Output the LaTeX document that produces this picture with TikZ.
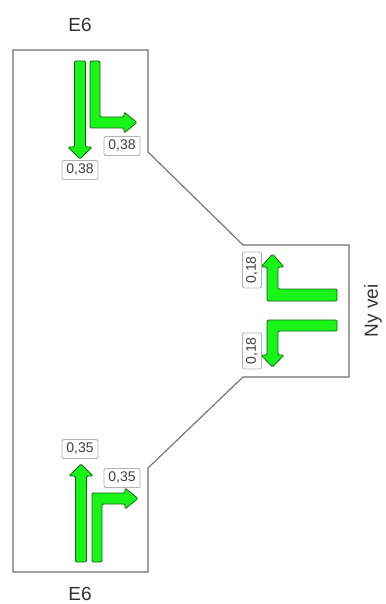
\documentclass[tikz,border=0pt]{standalone}
\usepackage{fontspec}
\setmainfont{Liberation Sans}
\definecolor{lanegreen}{RGB}{25,245,25}
\definecolor{lanedark}{RGB}{20,100,20}
\definecolor{edgegray}{RGB}{110,110,110}
\tikzset{
  lane/.style={fill=lanegreen, draw=lanedark, line width=0.8pt, rounded corners=1.2pt},
  flow/.style={rectangle, rounded corners=2pt, draw=gray!60, fill=white, line width=0.9pt,
    minimum width=36pt, minimum height=19pt, inner sep=1pt, text=black!75,
    font=\fontsize{14}{15}\selectfont},
  road/.style={font=\fontsize{19}{20}\selectfont, text=black!80}
}
\begin{document}
\begin{tikzpicture}[x=1pt, y=-1pt]
  \useasboundingbox (0,0) rectangle (385,604);
  % kryss
  \draw[edgegray, line width=1.1pt] (13,50) -- (148,50) -- (148,152) -- (243,245) -- (349,245)
    -- (349,377) -- (243,377) -- (148,468) -- (148,572) -- (13,572) -- cycle;

  \node[road] (north) at (80,25) {E6};
  \node[road] (south) at (80,594) {E6};
  \node[road, rotate=90] (east) at (373,311) {Ny vei};

  % fra nord
  \draw[lane] (74.5,61) -- (85.5,61) -- (85.5,147) -- (92,147) -- (80,159) -- (68,147) -- (74.5,147) -- cycle;
  \draw[lane] (90,61) -- (100,61) -- (100,117) -- (124,117) -- (124,112) -- (137,122.5) -- (124,133) -- (124,128) -- (90,128) -- cycle;
  \node[flow] (nS) at (80,170) {0,38};
  \node[flow] (nR) at (122,146) {0,38};

  % fra sør
  \draw[lane] (75.5,562) -- (86.5,562) -- (86.5,476) -- (93,476) -- (81,464) -- (69,476) -- (75.5,476) -- cycle;
  \draw[lane] (92,562) -- (102,562) -- (102,504) -- (125,504) -- (125,509) -- (138,498.5) -- (125,488) -- (125,493) -- (92,493) -- cycle;
  \node[flow] (sS) at (80,449) {0,35};
  \node[flow] (sR) at (122,478) {0,35};

  % fra ny vei
  \draw[lane] (337,289) -- (337,301) -- (267,301) -- (267,267) -- (261,267) -- (272.5,254) -- (284,267) -- (278,267) -- (278,289) -- cycle;
  \draw[lane] (337,331) -- (337,320) -- (267,320) -- (267,355) -- (261,355) -- (272.5,367) -- (284,355) -- (278,355) -- (278,331) -- cycle;
  \node[flow, rotate=90] (eR) at (252,270) {0,18};
  \node[flow, rotate=90] (eL) at (252,351) {0,18};
\end{tikzpicture}
\end{document}
